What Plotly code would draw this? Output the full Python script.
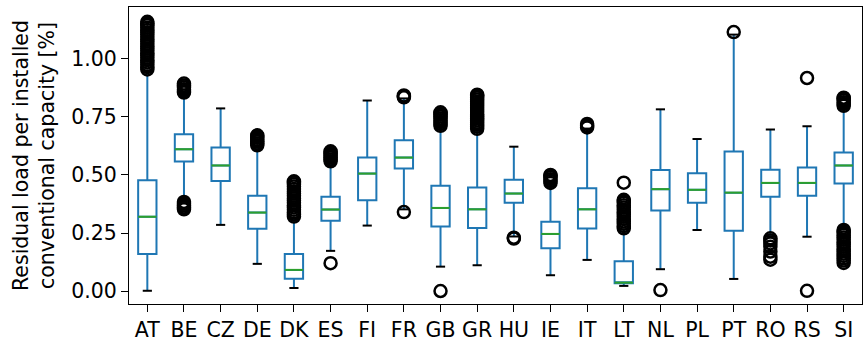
import plotly.graph_objects as go

cats = ["AT", "BE", "CZ", "DE", "DK", "ES", "FI", "FR", "GB", "GR",
        "HU", "IE", "IT", "LT", "NL", "PL", "PT", "RO", "RS", "SI"]
q1 = [0.159, 0.558, 0.474, 0.268, 0.053, 0.303, 0.391, 0.528, 0.278, 0.272,
      0.380, 0.184, 0.269, 0.033, 0.347, 0.380, 0.260, 0.406, 0.411, 0.463]
median = [0.320, 0.611, 0.541, 0.338, 0.091, 0.351, 0.506, 0.575, 0.358, 0.352,
          0.420, 0.246, 0.352, 0.036, 0.439, 0.436, 0.424, 0.466, 0.466, 0.541]
q3 = [0.477, 0.676, 0.619, 0.410, 0.160, 0.406, 0.575, 0.650, 0.454, 0.446,
      0.479, 0.299, 0.443, 0.128, 0.522, 0.508, 0.601, 0.523, 0.532, 0.597]
whisk_lo = [0.001, 0.390, 0.285, 0.117, 0.013, 0.173, 0.282, 0.352, 0.105, 0.111,
            0.235, 0.068, 0.134, 0.022, 0.094, 0.263, 0.052, 0.235, 0.234, 0.270]
whisk_hi = [0.945, 0.845, 0.787, 0.620, 0.312, 0.555, 0.821, 0.830, 0.710, 0.695,
            0.622, 0.460, 0.700, 0.265, 0.783, 0.655, 1.105, 0.696, 0.710, 0.790]

out_AT = [0.955, 0.965, 0.975, 0.985, 0.995, 1.005, 1.015, 1.025, 1.035, 1.045,
          1.055, 1.065, 1.075, 1.085, 1.095, 1.105, 1.115, 1.125, 1.135, 1.145,
          1.152, 1.160]
out_BE = [0.352, 0.360, 0.368, 0.376, 0.384, 0.855, 0.862, 0.870, 0.878, 0.886, 0.894]
out_CZ = []
out_DE = [0.628, 0.636, 0.644, 0.652, 0.660, 0.668, 0.671]
out_DK = [0.321, 0.330, 0.340, 0.350, 0.360, 0.370, 0.380, 0.390, 0.400, 0.410,
          0.420, 0.430, 0.440, 0.450, 0.460, 0.468, 0.473]
out_ES = [0.120, 0.559, 0.567, 0.575, 0.583, 0.591, 0.598, 0.602]
out_FI = []
out_FR = [0.340, 0.835, 0.838, 0.843]
out_GB = [0.000, 0.712, 0.720, 0.728, 0.736, 0.744, 0.752, 0.760, 0.766, 0.770]
out_GR = [0.699, 0.708, 0.717, 0.726, 0.735, 0.744, 0.753, 0.762, 0.771, 0.780,
          0.789, 0.798, 0.807, 0.816, 0.825, 0.834, 0.842, 0.846]
out_HU = [0.226, 0.230]
out_IE = [0.466, 0.474, 0.482, 0.490, 0.497, 0.500]
out_IT = [0.705, 0.712, 0.720]
out_LT = [0.270, 0.280, 0.290, 0.300, 0.310, 0.320, 0.330, 0.340, 0.350, 0.360,
          0.370, 0.380, 0.388, 0.393, 0.467]
out_NL = [0.004]
out_PL = []
out_PT = [1.116]
out_RO = [0.135, 0.148, 0.170, 0.191, 0.205, 0.218, 0.227]
out_RS = [0.001, 0.918]
out_SI = [0.121, 0.131, 0.141, 0.151, 0.161, 0.171, 0.181, 0.191, 0.201, 0.211,
          0.221, 0.231, 0.241, 0.251, 0.258, 0.263,
          0.798, 0.806, 0.814, 0.822, 0.830, 0.833]

outliers = [out_AT, out_BE, out_CZ, out_DE, out_DK, out_ES, out_FI, out_FR, out_GB,
            out_GR, out_HU, out_IE, out_IT, out_LT, out_NL, out_PL, out_PT, out_RO,
            out_RS, out_SI]

yticks = [0.0, 0.25, 0.5, 0.75, 1.0]

BLUE = "#1f77b4"
GREEN = "#2ca02c"
FS = 20.5
xs = list(range(len(cats)))

fig = go.Figure()

fig.add_trace(go.Box(
    x=xs, q1=q1, median=median, q3=q3,
    lowerfence=whisk_lo, upperfence=whisk_hi,
    width=0.5, whiskerwidth=0, boxpoints=False,
    line=dict(color=BLUE, width=2), fillcolor="rgba(0,0,0,0)",
    hoverinfo="skip", showlegend=False,
))

# caps
cx, cy = [], []
for i in xs:
    for v in (whisk_lo[i], whisk_hi[i]):
        cx += [i - 0.125, i + 0.125, None]
        cy += [v, v, None]
fig.add_trace(go.Scatter(x=cx, y=cy, mode="lines",
                         line=dict(color="black", width=2), showlegend=False, hoverinfo="skip"))

# medians
mx, my = [], []
for i in xs:
    mx += [i - 0.25, i + 0.25, None]
    my += [median[i], median[i], None]
fig.add_trace(go.Scatter(x=mx, y=my, mode="lines",
                         line=dict(color=GREEN, width=2), showlegend=False, hoverinfo="skip"))

# fliers
fx, fy = [], []
for i in xs:
    for v in outliers[i]:
        fx.append(i)
        fy.append(v)
fig.add_trace(go.Scatter(x=fx, y=fy, mode="markers",
                         marker=dict(symbol="circle-open", size=12, color="black",
                                     line=dict(color="black", width=2.5)),
                         showlegend=False, hoverinfo="skip"))

fig.update_layout(
    width=867, height=347,
    margin=dict(l=129, r=5, t=7, b=43),
    paper_bgcolor="white", plot_bgcolor="white",
    font=dict(family="DejaVu Sans", size=FS, color="black"),
    showlegend=False,
)
fig.update_xaxes(
    range=[-0.5, 19.5], tickmode="array", tickvals=xs, ticktext=cats,
    ticks="outside", ticklen=7, tickwidth=1.2, tickcolor="black",
    showline=True, linecolor="black", linewidth=1.2, mirror=True,
    showgrid=False, zeroline=False, tickfont=dict(size=FS),
)
fig.update_yaxes(
    range=[-0.056, 1.224], tickmode="array", tickvals=yticks, tickformat=".2f",
    ticks="outside", ticklen=7, tickwidth=1.2, tickcolor="black",
    showline=True, linecolor="black", linewidth=1.2, mirror=True,
    showgrid=False, zeroline=False, tickfont=dict(size=FS),
    title=dict(text="Residual load per installed<br>conventional capacity [%]",
               font=dict(size=FS), standoff=10),
)

fig.write_html("out.html")
